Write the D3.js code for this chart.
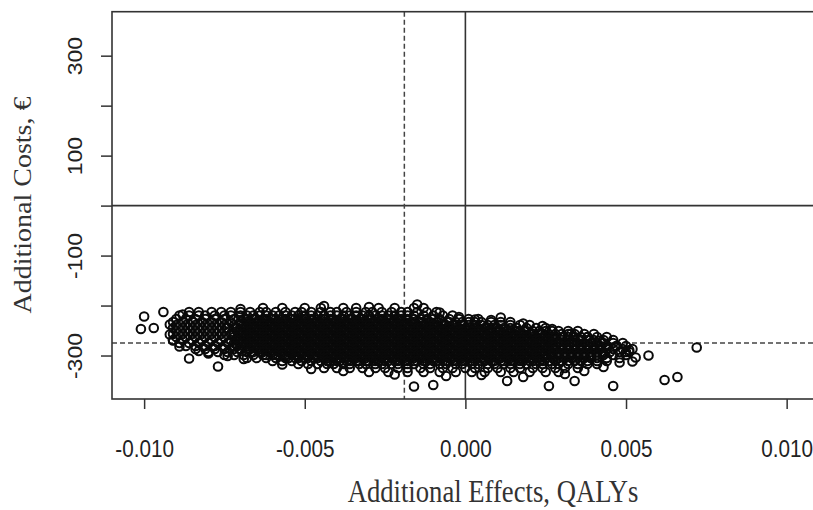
<!DOCTYPE html>
<html><head><meta charset="utf-8">
<script src="https://cdn.jsdelivr.net/npm/d3@7"></script>
<style>body{margin:0;background:#fff}</style>
</head><body><svg id="c" width="813" height="510"></svg>
<script>
// ---- axis ticks ----
const xTicks = [-0.010, -0.005, 0.000, 0.005, 0.010];
const xTickLabels = ["-0.010", "-0.005", "0.000", "0.005", "0.010"];
const yTicks = [-300, -200, -100, 0, 100, 200, 300];
const yTickLabels = ["-300", "", "-100", "", "100", "", "300"];
const xTitle = "Additional Effects, QALYs";
const yTitle = "Additional Costs, €";

// ---- reference lines ----
const meanEffect = -0.0019;   // dashed vertical
const meanCost = -275;        // dashed horizontal

// ---- bootstrap draws (effects in 1e-4 QALY, costs in €), read row by row ----
const rowCosts = [-205,-213,-220,-227,-233,-239,-245,-251,-257,-263,-269,-275,-281,-287,-293,-299,-305,-311,-317,-325,-333];
const rowEffects = [
[-63,-57,-50,-45,-38,-34,-27,-22,-16,-13],
[-86,-83,-79,-76,-73,-70,-67,-64,-62,-59,-56,-53,-51,-48,-45,-42,-40,-37,-34,-31,-29,-26,-23,-20,-18,-15,-12,-9],
[-89,-86,-83,-81,-78,-75,-73,-70,-68,-66,-64,-62,-60,-58,-56,-54,-52,-50,-48,-46,-44,-42,-40,-38,-36,-34,-32,-30,-28,-26,-24,-22,-20,-18,-16,-13,-10,-7,-4],
[-90,-87,-84,-81,-78,-75,-72,-69,-68,-66,-65,-63,-62,-60,-59,-57,-56,-54,-53,-51,-50,-48,-47,-45,-44,-42,-41,-39,-38,-36,-35,-33,-32,-30,-29,-27,-26,-24,-23,-21,-20,-18,-16,-14,-12,-10,-8,-5,-2,1,4],
[-91,-88,-85,-82,-79,-76,-73,-70,-68,-67,-65,-64,-62,-61,-59,-58,-56,-55,-53,-52,-50,-49,-47,-46,-44,-43,-41,-40,-38,-37,-35,-34,-32,-31,-29,-28,-26,-25,-23,-22,-20,-19,-17,-16,-14,-13,-11,-9,-7,-5,-3,-1,1,3,5,8,11,14],
[-90,-87,-84,-81,-78,-75,-72,-70,-69,-67,-66,-64,-63,-61,-60,-58,-57,-55,-54,-52,-51,-49,-48,-46,-45,-43,-42,-40,-39,-37,-36,-34,-33,-31,-30,-28,-27,-25,-24,-22,-21,-19,-18,-16,-15,-13,-12,-10,-9,-7,-6,-4,-3,-1,1,3,5,7,9,11,14,17,20],
[-91,-88,-85,-82,-79,-76,-74,-72,-71,-69,-68,-66,-65,-63,-62,-60,-59,-57,-56,-54,-53,-51,-50,-48,-47,-45,-44,-42,-41,-39,-38,-36,-35,-33,-32,-30,-29,-27,-26,-24,-23,-21,-20,-18,-17,-15,-14,-12,-11,-9,-8,-6,-5,-3,-2,0,1,3,4,6,8,10,12,14,16,19,22,25],
[-90,-87,-84,-81,-78,-75,-71,-70,-68,-67,-65,-64,-62,-61,-59,-58,-56,-55,-53,-52,-50,-49,-47,-46,-44,-43,-41,-40,-38,-37,-35,-34,-32,-31,-29,-28,-26,-25,-23,-22,-20,-19,-17,-16,-14,-13,-11,-10,-8,-7,-5,-4,-2,-1,1,2,4,5,7,8,10,11,13,14,16,17,19,21,23,25,27,29,32,35],
[-91,-88,-85,-82,-79,-76,-73,-72,-70,-69,-67,-66,-64,-63,-61,-60,-58,-57,-55,-54,-52,-51,-49,-48,-46,-45,-43,-42,-40,-39,-37,-36,-34,-33,-31,-30,-28,-27,-25,-24,-22,-21,-19,-18,-16,-15,-13,-12,-10,-9,-7,-6,-4,-3,-1,0,2,3,5,6,8,9,11,12,14,15,17,18,20,21,23,24,26,28,30,32,34,37,40],
[-90,-87,-84,-81,-78,-75,-72,-71,-69,-68,-66,-65,-63,-62,-60,-59,-57,-56,-54,-53,-51,-50,-48,-47,-45,-44,-42,-41,-39,-38,-36,-35,-33,-32,-30,-29,-27,-26,-24,-23,-21,-20,-18,-17,-15,-14,-12,-11,-9,-8,-6,-5,-3,-2,0,1,3,4,6,7,9,10,12,13,15,16,18,19,21,22,24,25,27,28,30,32,34,36,38,41,44],
[-91,-88,-85,-82,-79,-76,-73,-71,-70,-68,-67,-65,-64,-62,-61,-59,-58,-56,-55,-53,-52,-50,-49,-47,-46,-44,-43,-41,-40,-38,-37,-35,-34,-32,-31,-29,-28,-26,-25,-23,-22,-20,-19,-17,-16,-14,-13,-11,-10,-8,-7,-5,-4,-2,-1,1,2,4,5,7,8,10,11,13,14,16,17,19,20,22,23,25,26,28,30,32,34,36,38,40,43,46],
[-89,-86,-83,-80,-77,-74,-72,-70,-69,-67,-66,-64,-63,-61,-60,-58,-57,-55,-54,-52,-51,-49,-48,-46,-45,-43,-42,-40,-39,-37,-36,-34,-33,-31,-30,-28,-27,-25,-24,-22,-21,-19,-18,-16,-15,-13,-12,-10,-9,-7,-6,-4,-3,-1,0,2,3,5,6,8,9,11,12,14,15,17,18,20,21,23,24,26,27,29,31,33,35,37,39,41,43,46,49],
[-87,-84,-81,-78,-75,-72,-71,-69,-68,-66,-65,-63,-62,-60,-59,-57,-56,-54,-53,-51,-50,-48,-47,-45,-44,-42,-41,-39,-38,-36,-35,-33,-32,-30,-29,-27,-26,-24,-23,-21,-20,-18,-17,-15,-14,-12,-11,-9,-8,-6,-5,-3,-2,0,1,3,4,6,7,9,10,12,13,15,16,18,19,21,22,24,25,27,28,30,32,34,36,38,40,42,44,47,50],
[-84,-81,-78,-75,-72,-70,-68,-67,-65,-64,-62,-61,-59,-58,-56,-55,-53,-52,-50,-49,-47,-46,-44,-43,-41,-40,-38,-37,-35,-34,-32,-31,-29,-28,-26,-25,-23,-22,-20,-19,-17,-16,-14,-13,-11,-10,-8,-7,-5,-4,-2,-1,1,2,4,5,7,8,10,11,13,14,16,17,19,20,22,23,25,26,28,30,32,34,36,38,40,42,44,46,49,52],
[-80,-77,-74,-71,-68,-66,-64,-63,-61,-60,-58,-57,-55,-54,-52,-51,-49,-48,-46,-45,-43,-42,-40,-39,-37,-36,-34,-33,-31,-30,-28,-27,-25,-24,-22,-21,-19,-18,-16,-15,-13,-12,-10,-9,-7,-6,-4,-3,-1,0,2,3,5,6,8,9,11,12,14,15,17,18,20,21,23,24,26,27,29,31,33,35,37,39,41,43,45,48,51],
[-75,-72,-69,-66,-63,-62,-60,-59,-57,-56,-54,-53,-51,-50,-48,-47,-45,-44,-42,-41,-39,-38,-36,-35,-33,-32,-30,-29,-27,-26,-24,-23,-21,-20,-18,-17,-15,-14,-12,-11,-9,-8,-6,-5,-3,-2,0,1,3,4,6,7,9,10,12,13,15,16,18,19,21,22,24,25,27,29,31,33,35,37,39,41,43,46,50],
[-68,-65,-62,-59,-56,-55,-53,-52,-50,-49,-47,-46,-44,-43,-41,-40,-38,-37,-35,-34,-32,-31,-29,-28,-26,-25,-23,-22,-20,-19,-17,-16,-14,-13,-11,-10,-8,-7,-5,-4,-2,-1,1,2,4,5,7,8,10,11,13,14,16,17,19,20,22,23,25,27,29,31,33,35,37,39,41,44,48],
[-60,-57,-54,-51,-48,-45,-43,-42,-40,-39,-37,-36,-34,-33,-31,-30,-28,-27,-25,-24,-22,-21,-19,-18,-16,-15,-13,-12,-10,-9,-7,-6,-4,-3,-1,0,2,3,5,6,8,9,11,12,14,15,17,18,20,21,23,24,26,28,30,32,34,36,38,41,44],
[-52,-49,-46,-43,-41,-38,-36,-33,-31,-28,-26,-23,-21,-18,-16,-13,-11,-8,-6,-3,-1,2,4,7,9,12,14,17,19,22,24,27,29,32,35,38,41],
[-44,-40,-36,-32,-28,-25,-21,-18,-14,-11,-7,-4,0,3,7,10,14,17,21,24,28,31,35],
[-30,-24,-18,-13,-8,-3,2,6,11,15,20,25,29]
];
// isolated draws [effect 1e-4 QALY, cost €]
const scatteredDraws = [
[-100,-222],[-101,-247],[-97,-245],[-94,-213],[-86,-306],[-77,-322],[-69,-307],[-16,-362],[-10,-359],
[26,-361],[13,-351],[57,-300],[72,-284],[62,-349],[66,-343],[46,-361],[34,-351],[51,-289],[52,-312],
[-70,-207],[-44,-201],[-30,-203],[-15,-198],[-8,-214],[-2,-223],[3,-228],[8,-229],[11,-224],[18,-236],
[24,-241],[27,-247],[33,-256],[38,-263],[42,-270],[47,-281],[50,-293],
[-57,-318],[-48,-327],[-38,-331],[-22,-338],[-6,-341],[5,-339],[18,-343],[31,-337],[37,-331],[43,-323],[48,-314],[53,-304],
[-92,-238],[-92,-258],[-91,-270],[-89,-282],[-83,-291],[-80,-296],[-74,-301],[-88,-218]
];

// ---- build ----
const draws = [];
rowCosts.forEach((c, i) => rowEffects[i].forEach(u => draws.push({e: u / 10000, c})));
scatteredDraws.forEach(([u, c]) => draws.push({e: u / 10000, c}));

const svg = d3.select("#c");
const L = 112, T = 11.7, R = 875, B = 399;
const x = d3.scaleLinear().domain([-0.011, 0.01275]).range([L, R]);
const y = d3.scaleLinear().domain([-387, 388]).range([B, T]);

svg.append("defs").append("clipPath").attr("id", "clip")
  .append("rect").attr("x", L).attr("y", T).attr("width", R - L).attr("height", B - T);

const plot = svg.append("g").attr("clip-path", "url(#clip)");

// reference lines
plot.append("line").attr("x1", x(0)).attr("x2", x(0)).attr("y1", T).attr("y2", B)
  .attr("stroke", "#333").attr("stroke-width", 1.6);
plot.append("line").attr("x1", L).attr("x2", R).attr("y1", y(0)).attr("y2", y(0))
  .attr("stroke", "#333").attr("stroke-width", 1.6);
plot.append("line").attr("x1", x(meanEffect)).attr("x2", x(meanEffect)).attr("y1", T).attr("y2", B)
  .attr("stroke", "#444").attr("stroke-width", 1.5).attr("stroke-dasharray", "5,3");
plot.append("line").attr("x1", L).attr("x2", R).attr("y1", y(meanCost)).attr("y2", y(meanCost))
  .attr("stroke", "#444").attr("stroke-width", 1.5).attr("stroke-dasharray", "5,3");

plot.append("g").selectAll("circle").data(draws).join("circle")
  .attr("cx", d => x(d.e)).attr("cy", d => y(d.c)).attr("r", 4.3)
  .attr("fill", "none").attr("stroke", "#0a0a0a").attr("stroke-width", 2.0);

// box
svg.append("rect").attr("x", L).attr("y", T).attr("width", R - L).attr("height", B - T)
  .attr("fill", "none").attr("stroke", "#333").attr("stroke-width", 1.6);

// x axis
const gx = svg.append("g").attr("transform", `translate(0,${B})`)
  .call(d3.axisBottom(x).tickValues(xTicks).tickSize(10).tickFormat((d, i) => xTickLabels[i]));
gx.select(".domain").remove();
gx.selectAll(".tick line").attr("stroke", "#333").attr("stroke-width", 1.5);
gx.selectAll(".tick text").attr("y", 0).attr("dy", 0)
  .attr("transform", "translate(0,58) scale(0.9,1)")
  .attr("font-family", "Liberation Sans, Arial, sans-serif").attr("font-size", 23)
  .attr("fill", "#222");

// y axis
const gy = svg.append("g").attr("transform", `translate(${L},0)`)
  .call(d3.axisLeft(y).tickValues(yTicks).tickSize(11).tickFormat((d, i) => yTickLabels[i]));
gy.select(".domain").remove();
gy.selectAll(".tick line").attr("stroke", "#333").attr("stroke-width", 1.5);
gy.selectAll(".tick text").attr("x", 0).attr("dy", 0)
  .attr("transform", "translate(-30,0) rotate(-90) scale(1,0.9)")
  .attr("text-anchor", "middle")
  .attr("font-family", "Liberation Sans, Arial, sans-serif").attr("font-size", 23)
  .attr("fill", "#222");

// titles
svg.append("text").attr("transform", `translate(493,502) scale(0.86,1)`)
  .attr("text-anchor", "middle").attr("font-family", "Liberation Serif, Times New Roman, serif")
  .attr("font-size", 31).attr("fill", "#333").text(xTitle);
svg.append("text").attr("transform", `translate(31,205) rotate(-90) scale(1,0.9)`)
  .attr("text-anchor", "middle").attr("font-family", "Liberation Serif, Times New Roman, serif")
  .attr("font-size", 28).attr("fill", "#333").text(yTitle);
</script></body></html>
